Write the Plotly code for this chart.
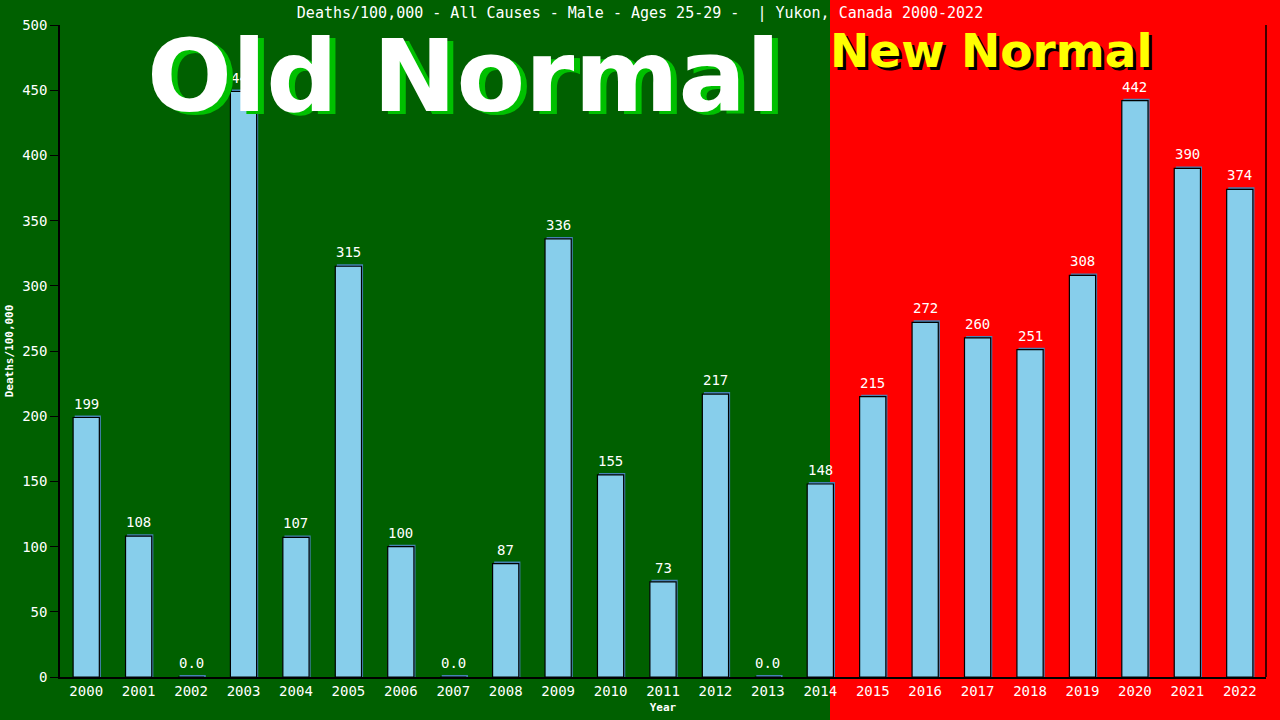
import plotly.graph_objects as go

years = [str(y) for y in range(2000, 2023)]
values = [199, 108, 0, 449, 107, 315, 100, 0, 87, 336, 155, 73, 217, 0, 148,
          215, 272, 260, 251, 308, 442, 390, 374]
labels = [("0.0" if v == 0 else f"{v:.0f}") for v in values]
y_ticks = list(range(0, 501, 50))

title_text = "Deaths/100,000 - All Causes - Male - Ages 25-29 -  | Yukon, Canada 2000-2022"
GREEN = "#006000"
RED = "#FF0000"
MONO = "DejaVu Sans Mono"

fig = go.Figure()

# shadow bars (steelblue), slightly shifted right/up
fig.add_trace(go.Bar(
    x=years, y=[v + 1.5 for v in values], width=0.5, offset=-0.22,
    marker=dict(color="#4682B4", line=dict(width=0)),
    hoverinfo="skip", showlegend=False,
))
fig.add_trace(go.Bar(
    x=years, y=values, width=0.5, offset=-0.25,
    marker=dict(color="#87CEEB", line=dict(color="black", width=1.2)),
    showlegend=False,
))

fig.update_layout(
    width=1280, height=720,
    barmode="overlay",
    paper_bgcolor=GREEN, plot_bgcolor="rgba(0,0,0,0)",
    margin=dict(l=60, r=14, t=25, b=43),
    title=dict(text=title_text, x=0.5, xanchor="center", y=1 - 13 / 720, yanchor="middle",
               font=dict(family=MONO, size=15, color="white")),
    xaxis=dict(type="category", range=[-0.5, 22.5], showgrid=False, zeroline=False,
               automargin=False,
               showline=True, linecolor="black", linewidth=1.5, ticks="",
               tickfont=dict(family=MONO, size=14, color="white"),
               title=dict(text="<b>Year</b>", standoff=6,
                          font=dict(family=MONO, size=11, color="white"))),
    yaxis=dict(range=[0, 500], tickvals=y_ticks, showgrid=False, zeroline=False,
               automargin=False,
               showline=True, linecolor="black", linewidth=1.5, ticks="outside",
               ticklen=8, tickcolor="black",
               tickfont=dict(family=MONO, size=14, color="white"),
               title=dict(text="<b>Deaths/100,000</b>", standoff=6,
                          font=dict(family=MONO, size=11, color="white"))),
    shapes=[
        dict(type="rect", xref="paper", yref="paper", x0=(830 - 60) / 1206, x1=1.2,
             y0=-0.2, y1=1.2, fillcolor=RED, line=dict(width=0), layer="below"),
        dict(type="line", xref="paper", yref="paper", x0=1, x1=1, y0=0, y1=1,
             line=dict(color="black", width=1.5)),
    ],
)

ann = []
# value labels above bars (category axis: annotation x uses category index)
for i, (v, lab) in enumerate(zip(values, labels)):
    ann.append(dict(text=lab, x=i, y=v, xref="x", yref="y", showarrow=False,
                    xanchor="center", yanchor="bottom", yshift=4,
                    font=dict(family=MONO, size=14, color="white")))

big_font = "DejaVu Sans"
old_x = (463 - 60) / 1206
old_y = (677 - 76) / 652
new_x = (991 - 60) / 1206
new_y = (677 - 50) / 652
common = dict(xref="paper", yref="paper", showarrow=False,
              xanchor="center", yanchor="middle")
ann += [
    dict(text="<b>Old Normal</b>", x=old_x, y=old_y, xshift=6, yshift=-3,
         font=dict(family=big_font, size=100, color="#00C000"), **common),
    dict(text="<b>Old Normal</b>", x=old_x, y=old_y,
         font=dict(family=big_font, size=100, color="white"), **common),
    dict(text="<b>New Normal</b>", x=new_x, y=new_y, xshift=3, yshift=-3,
         font=dict(family=big_font, size=47, color="black"), **common),
    dict(text="<b>New Normal</b>", x=new_x, y=new_y,
         font=dict(family=big_font, size=47, color="#FFFF00"), **common),
]
fig.update_layout(annotations=ann)

fig.write_html("out.html", config={"displayModeBar": False},
               post_script="document.body.style.margin='0';")
